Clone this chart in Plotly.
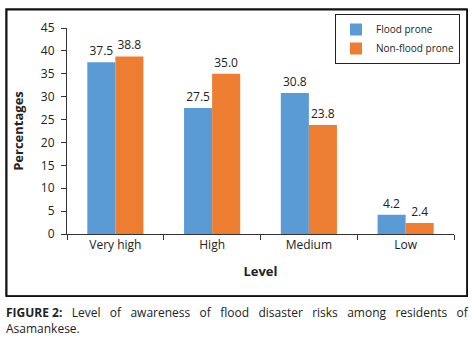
import plotly.graph_objects as go

categories = ["Very high", "High", "Medium", "Low"]
flood_prone = [37.5, 27.5, 30.8, 4.2]
non_flood_prone = [38.8, 35.0, 23.8, 2.4]
y_ticks = [0, 5, 10, 15, 20, 25, 30, 35, 40, 45]

FONT = "Open Sans"
W, H = 474, 342
L, R, T, B = 67, 20, 28, 108
pw, ph = W - L - R, H - T - B

def px_x(x):
    return (x - L) / pw

def px_y(y):
    return (H - B - y) / ph

fig = go.Figure()
fig.add_trace(go.Bar(
    x=categories, y=flood_prone, name="Flood prone",
    marker=dict(color="#5B9BD5", line=dict(width=0)),
    text=[f"{v:.1f}" for v in flood_prone], textposition="outside",
    textfont=dict(size=12, color="#222", family=FONT), cliponaxis=False,
))
fig.add_trace(go.Bar(
    x=categories, y=non_flood_prone, name="Non-flood prone",
    marker=dict(color="#ED7D31", line=dict(width=0)),
    text=[f"{v:.1f}" for v in non_flood_prone], textposition="outside",
    textfont=dict(size=12, color="#222", family=FONT), cliponaxis=False,
))

sp = "\u00a0"
cap_words = ["Level", "of", "awareness", "of", "flood", "disaster", "risks", "among", "residents", "of"]
caption = "<b>FIGURE" + sp + "2:</b>" + sp * 3 + (sp * 3).join(cap_words) + "<br>Asamankese."

x0, x1, y0, y1 = px_x(6), px_x(467), px_y(296), px_y(9)
frame_path = f"M{x0},{y0} L{x1},{y0} L{x1},{y1} L{x0},{y1} Z"

fig.update_layout(
    width=W, height=H,
    margin=dict(l=L, r=R, t=T, b=B, autoexpand=False),
    paper_bgcolor="white", plot_bgcolor="white",
    font=dict(family=FONT, size=11, color="#222"),
    barmode="group", bargap=0.42, bargroupgap=0,
    showlegend=True,
    legend=dict(
        x=px_x(460), y=px_y(14), xanchor="right", yanchor="top",
        bordercolor="#222", borderwidth=1, bgcolor="white",
        font=dict(size=10, family=FONT), tracegroupgap=0,
        itemsizing="constant", itemwidth=30,
    ),
    xaxis=dict(
        showline=True, linecolor="#333", linewidth=1,
        ticks="outside", ticklen=5, tickcolor="#333", tickson="boundaries",
        tickfont=dict(size=12, family=FONT),
        title=dict(text="<b>Level</b>", font=dict(size=13, family=FONT), standoff=14),
    ),
    yaxis=dict(
        range=[0, 45], tickvals=y_ticks, showgrid=False, zeroline=False,
        showline=True, linecolor="#333", linewidth=1,
        ticks="outside", ticklen=5, tickcolor="#333", ticklabelstandoff=4,
        tickfont=dict(size=12, family=FONT),
        title=dict(text="<b>Percentages</b>", font=dict(size=13, family=FONT), standoff=14),
    ),
    shapes=[dict(
        type="path", xref="paper", yref="paper", layer="above",
        path=frame_path, line=dict(color="#111", width=1.5),
        fillcolor="rgba(0,0,0,0)",
    )],
    annotations=[
        dict(
            text=sp, width=459, height=285, borderpad=0,
            bordercolor="#111", borderwidth=1.5, bgcolor="rgba(0,0,0,0)",
            xref="paper", yref="paper", x=px_x(6.25), y=px_y(9.25),
            xanchor="left", yanchor="top", showarrow=False,
        ),
        dict(
            text=caption,
            xref="paper", yref="paper", x=px_x(4), y=px_y(302),
            xanchor="left", yanchor="top", align="left", showarrow=False,
            font=dict(size=12, family=FONT, color="#222"),
        ),
    ],
)

fig.write_html(
    "out.html",
    config={"displayModeBar": False},
    post_script="document.body.style.margin='0px';document.body.style.overflow='hidden';",
)
